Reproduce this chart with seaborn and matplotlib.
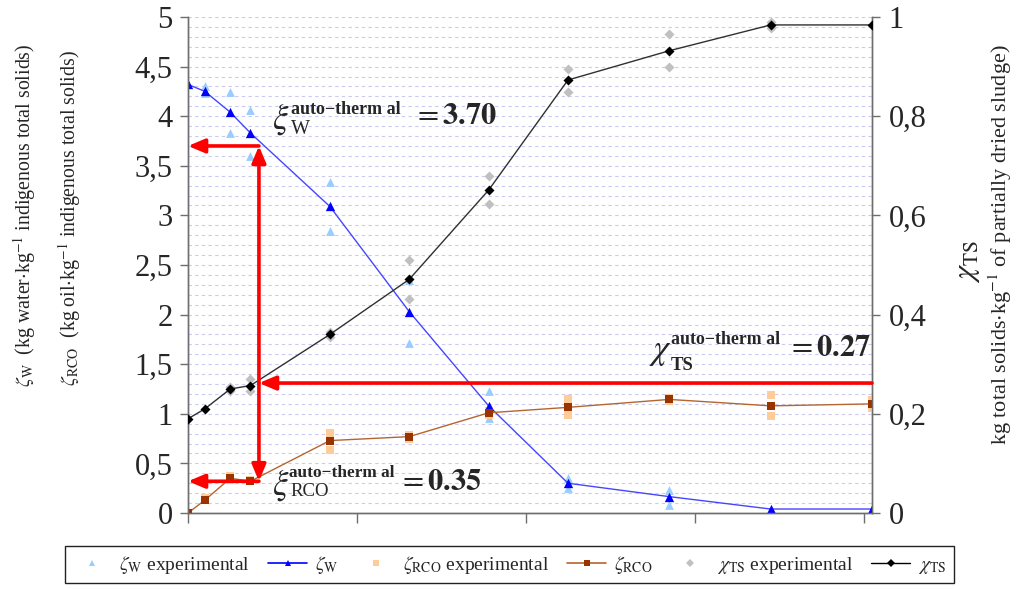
import matplotlib
matplotlib.use("Agg")
import matplotlib.pyplot as plt
import seaborn as sns
import pandas as pd
from matplotlib.ticker import MultipleLocator, FuncFormatter
from matplotlib.lines import Line2D

# ---------------- data ----------------
x_fit = [0.0, 0.10, 0.25, 0.37, 0.84, 1.31, 1.78, 2.25, 2.85, 3.45, 4.05]
zeta_w = [4.32, 4.25, 4.04, 3.83, 3.09, 2.03, 1.08, 0.30, 0.165, 0.04, 0.04]
zeta_rco = [0.0, 0.13, 0.35, 0.32, 0.73, 0.77, 1.01, 1.065, 1.145, 1.08, 1.10]
chi_ts = [0.19, 0.21, 0.25, 0.257, 0.36, 0.471, 0.651, 0.873, 0.932, 0.984, 0.984]

zw_exp_x = [0.10, 0.10, 0.25, 0.25, 0.37, 0.37, 0.84, 0.84, 1.31, 1.31,
            1.78, 1.78, 2.25, 2.25, 2.85, 2.85]
zw_exp = [4.30, 4.23, 4.24, 3.83, 4.06, 3.60, 3.34, 2.84, 2.35, 1.71,
          1.23, 0.96, 0.35, 0.25, 0.23, 0.08]

zr_exp_x = [0.10, 0.25, 0.25, 0.37, 0.84, 0.84, 1.31, 1.31, 1.78, 1.78,
            2.25, 2.25, 2.85, 2.85, 3.45, 3.45, 4.05, 4.05]
zr_exp = [0.15, 0.37, 0.33, 0.33, 0.81, 0.64, 0.79, 0.75, 1.03, 0.99,
          1.15, 0.99, 1.16, 1.13, 1.19, 0.98, 1.14, 1.06]

chi_exp_x = [0.25, 0.25, 0.37, 0.37, 0.84, 0.84, 1.31, 1.31, 1.78, 1.78,
             2.25, 2.25, 2.85, 2.85, 3.45, 3.45]
chi_exp = [0.255, 0.245, 0.27, 0.245, 0.365, 0.355, 0.51, 0.431, 0.68, 0.622,
           0.895, 0.848, 0.966, 0.90, 0.99, 0.978]

left_ticks = [0, 0.5, 1, 1.5, 2, 2.5, 3, 3.5, 4, 4.5, 5]
right_ticks = [0, 0.2, 0.4, 0.6, 0.8, 1.0]
x_ticks = [0, 1, 2, 3, 4]

xi_w_auto = 3.70
xi_rco_auto = 0.32
chi_auto = 0.262
x_auto = 0.42

# ---------------- style ----------------
sns.set_style("ticks")
plt.rcParams["font.family"] = ["Liberation Serif", "DejaVu Serif"]
plt.rcParams["mathtext.fontset"] = "stix"

C_WEXP, C_W, C_WL = "#99ccff", "#0000ff", "#4646ff"
C_REXP, C_R, C_RL = "#ffcc99", "#993300", "#b5652f"
C_CEXP, C_C, C_CL = "#c0c0c0", "#000000", "#303030"
SPINE = "#6e6e6e"

W, H = 1022, 589
fig = plt.figure(figsize=(W / 100, H / 100), dpi=100)
ax = fig.add_axes([188 / W, 1 - 513 / H, (872 - 188) / W, (513 - 17) / H])
ax2 = ax.twinx()

# ---------------- series ----------------
sns.scatterplot(x=zw_exp_x, y=zw_exp, ax=ax, marker="^", s=40, color=C_WEXP,
                linewidth=0, zorder=3)
sns.scatterplot(x=zr_exp_x, y=zr_exp, ax=ax, marker="s", s=36, color=C_REXP,
                linewidth=0, zorder=3)
sns.lineplot(x=x_fit, y=zeta_w, ax=ax, color=C_WL, linewidth=1.0, zorder=4)
sns.scatterplot(x=x_fit, y=zeta_w, ax=ax, marker="^", s=45, color=C_W,
                linewidth=0, zorder=5)
sns.lineplot(x=x_fit, y=zeta_rco, ax=ax, color=C_RL, linewidth=1.0, zorder=4)
sns.scatterplot(x=x_fit, y=zeta_rco, ax=ax, marker="s", s=36, color=C_R,
                linewidth=0, zorder=5)

sns.scatterplot(x=chi_exp_x, y=chi_exp, ax=ax2, marker="D", s=26, color=C_CEXP,
                linewidth=0, zorder=3)
sns.lineplot(x=x_fit, y=chi_ts, ax=ax2, color=C_CL, linewidth=1.0, zorder=4)
sns.scatterplot(x=x_fit, y=chi_ts, ax=ax2, marker="D", s=26, color=C_C,
                linewidth=0, zorder=5)

# ---------------- axes ----------------
comma = FuncFormatter(lambda v, p: f"{v:g}".replace(".", ","))
ax.set_xlim(0, 4.05)
ax.set_ylim(0, 5)
ax2.set_ylim(0, 1)
ax.set_xticks(x_ticks)
ax.set_xticklabels([])
ax.set_yticks(left_ticks)
ax.yaxis.set_major_formatter(comma)
ax2.set_yticks(right_ticks)
ax2.yaxis.set_major_formatter(comma)
ax.yaxis.set_minor_locator(MultipleLocator(0.1))
ax.set_axisbelow(True)
ax.grid(which="both", axis="y", color="#c9c9f2", linestyle=(0, (3, 3)), linewidth=0.8)
ax.grid(which="both", axis="x", visible=False)
ax.tick_params(which="minor", length=0)
ax.tick_params(axis="y", which="major", direction="out", length=6, width=1,
               color=SPINE, labelsize=22, pad=5)
ax.tick_params(axis="x", which="major", direction="out", length=7, width=1,
               color=SPINE)
ax2.tick_params(axis="y", direction="out", length=6, width=1, color=SPINE,
                labelsize=22, pad=6)
for a in (ax, ax2):
    a.spines["top"].set_visible(False)
    for s in ("left", "right", "bottom"):
        a.spines[s].set_color(SPINE)
        a.spines[s].set_linewidth(1.0)
ax.set_xlabel("")
ax.set_ylabel("")
ax2.set_ylabel("")

# ---------------- red arrows ----------------
red = "#ff0000"
ast = "-|>,head_length=1.0,head_width=0.42"
y_chi_left = chi_auto * 5
arrows = [
    ((4.05, y_chi_left), (x_auto, y_chi_left)),
    ((x_auto, y_chi_left), (x_auto, xi_w_auto)),
    ((x_auto, y_chi_left), (x_auto, xi_rco_auto)),
    ((x_auto, xi_w_auto), (0.0, xi_w_auto)),
    ((x_auto, xi_rco_auto), (0.0, xi_rco_auto)),
]
for start, end in arrows:
    ax2.annotate("", xy=end, xytext=start, xycoords=ax.transData,
                 textcoords=ax.transData,
                 arrowprops=dict(arrowstyle=ast, color=red, lw=2.6,
                                 shrinkA=0, shrinkB=0), zorder=8,
                 annotation_clip=False)


# ---------------- annotation texts (placed in figure pixels) ----------------
def ftext(px, py, s, **kw):
    fig.text(px / W, 1 - py / H, s, **kw)


SUP = "auto\u2212therm al"
# xi_W
ftext(281, 119, r"$\xi$", fontsize=25, ha="center", va="center")
ftext(291, 109, SUP, fontsize=13, fontweight="bold", ha="left", va="center")
ftext(291, 129, "W", fontsize=14.5, ha="left", va="center")
ftext(413, 117, r"$= \mathbf{3.70}$", fontsize=22, ha="left", va="center")
# chi_TS
ftext(661, 352, r"$\chi$", fontsize=25, ha="center", va="center")
ftext(671, 340, SUP, fontsize=12.8, fontweight="bold", ha="left", va="center")
ftext(671, 365, "TS", fontsize=13.5, fontweight="bold", ha="left", va="center")
ftext(787, 348, r"$= \mathbf{0.27}$", fontsize=22, ha="left", va="center")
# xi_RCO
ftext(281, 485, r"$\xi$", fontsize=25, ha="center", va="center")
ftext(289, 473, SUP, fontsize=12.4, fontweight="bold", ha="left", va="center")
ftext(290, 491, "RCO", fontsize=13.5, ha="left", va="center")
ftext(398, 483, r"$= \mathbf{0.35}$", fontsize=22, ha="left", va="center")

# ---------------- axis labels ----------------
ftext(25, 215,
      r"$\zeta_{\mathrm{W}}$  (kg water$\cdot$kg$^{-1}$ indigenous total solids)",
      rotation=90, ha="center", va="center", fontsize=14.3)
ftext(70, 218,
      r"$\zeta_{\mathrm{RCO}}$  (kg oil$\cdot$kg$^{-1}$ indigenous total solids)",
      rotation=90, ha="center", va="center", fontsize=14.3)
ftext(968, 262, r"$\chi_{\mathrm{TS}}$",
      rotation=90, ha="center", va="center", fontsize=22)
ftext(1000, 245,
      r"kg total solids$\cdot$kg$^{-1}$ of partially dried sludge)",
      rotation=90, ha="center", va="center", fontsize=16)

# ---------------- legend ----------------
handles = [
    Line2D([], [], ls="none", marker="^", color=C_WEXP, markersize=5, markeredgewidth=0),
    Line2D([], [], ls="-", marker="^", color=C_W, markersize=5, lw=1.2, markeredgewidth=0),
    Line2D([], [], ls="none", marker="s", color=C_REXP, markersize=5, markeredgewidth=0),
    Line2D([], [], ls="-", marker="s", color=C_RL, markerfacecolor=C_R, markersize=4,
           lw=1.2, markeredgewidth=0),
    Line2D([], [], ls="none", marker="D", color=C_CEXP, markersize=4, markeredgewidth=0),
    Line2D([], [], ls="-", marker="D", color=C_C, markersize=4, lw=1.0, markeredgewidth=0),
]
labels = [r"$\zeta_{\mathrm{W}}$ experimental", r"$\zeta_{\mathrm{W}}$",
          r"$\zeta_{\mathrm{RCO}}$ experimental", r"$\zeta_{\mathrm{RCO}}$",
          r"$\chi_{\mathrm{TS}}$ experimental", r"$\chi_{\mathrm{TS}}$"]
leg = fig.legend(handles, labels, ncol=6, loc="center",
                 bbox_to_anchor=(65 / W, 1 - 587 / H, (954 - 65) / W, 45 / H),
                 mode="expand", frameon=True, fancybox=False, framealpha=1,
                 edgecolor="#222222", fontsize=14, handlelength=2.0,
                 handletextpad=0.4, columnspacing=1.0, borderaxespad=0)
leg.get_frame().set_linewidth(1.0)

fig.savefig("out.png", dpi=100)
